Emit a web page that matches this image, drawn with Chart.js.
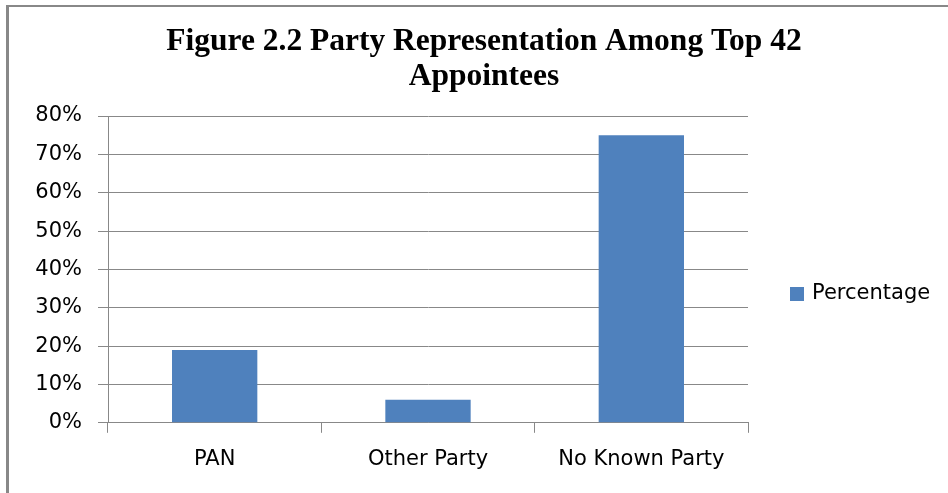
<!DOCTYPE html>
<html>
<head>
<meta charset="utf-8">
<script src="https://cdn.jsdelivr.net/npm/chart.js@4.4.0/dist/chart.umd.min.js"></script>
<style>
  html, body { margin: 0; padding: 0; background: #fff; }
  #wrap { position: absolute; left: 6px; top: 5px; right: 0; bottom: 0;
          border-left: 3px solid #888; border-top: 2px solid #888; }
  #chart { position: absolute; left: 0; top: 0; }
</style>
</head>
<body>
<div id="wrap"></div>
<canvas id="chart" width="948" height="493"></canvas>
<script>
// chart data
const categories = ["PAN", "Other Party", "No Known Party"];
const percentages = [19, 6, 75];
const seriesName = "Percentage";
const titleLines = ["Figure 2.2 Party Representation Among Top 42", "Appointees"];

const labelFont = { family: "'DejaVu Sans', sans-serif", size: 21 };

// centre the title on the whole picture, not just the plot
const titleSpan = {
  id: "titleSpan",
  afterLayout(chart) {
    chart.titleBlock.left = 20;
    chart.titleBlock.right = 948;
  }
};

// legend drawn to the right of the plot, a bit below the middle
const sideLegend = {
  id: "sideLegend",
  afterDraw(chart) {
    const ctx = chart.ctx;
    const ds = chart.data.datasets[0];
    const x = chart.chartArea.right + 42;
    const y = 294;
    ctx.save();
    ctx.fillStyle = ds.backgroundColor;
    ctx.fillRect(x, y - 7, 14, 14);
    ctx.fillStyle = "#000";
    ctx.font = "21px 'DejaVu Sans', sans-serif";
    ctx.textBaseline = "middle";
    ctx.fillText(ds.label, x + 22, y);
    ctx.restore();
  }
};

new Chart(document.getElementById("chart"), {
  type: "bar",
  data: {
    labels: categories,
    datasets: [{
      label: seriesName,
      data: percentages,
      backgroundColor: "#4f81bd",
      categoryPercentage: 0.4,
      barPercentage: 1.0
    }]
  },
  options: {
    responsive: false,
    animation: false,
    layout: { padding: { left: 0, right: 200, top: 0, bottom: 7 } },
    plugins: {
      title: {
        display: true,
        text: titleLines,
        color: "#000",
        font: { family: "'Liberation Serif', 'DejaVu Serif', serif", size: 31.5, weight: "bold", lineHeight: 35 / 31.5 },
        padding: { top: 24, bottom: 22 }
      },
      legend: { display: false },
      tooltip: { enabled: false }
    },
    scales: {
      x: {
        grid: { drawOnChartArea: false, color: "#888", tickLength: 10, offset: true },
        border: { color: "#888" },
        ticks: { color: "#000", font: labelFont, padding: 14 }
      },
      y: {
        min: 0,
        max: 80,
        afterFit(scale) { scale.width = 108; },
        grid: { color: "#888", tickLength: 10 },
        border: { color: "#888" },
        ticks: {
          stepSize: 10,
          color: "#000",
          font: labelFont,
          padding: 16,
          callback: v => v + "%"
        }
      }
    }
  },
  plugins: [titleSpan, sideLegend]
});
</script>
</body>
</html>
